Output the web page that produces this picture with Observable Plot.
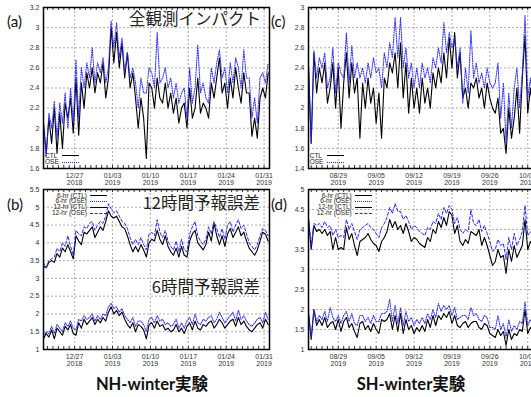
<!DOCTYPE html>
<html><head><meta charset="utf-8">
<script src="https://cdn.jsdelivr.net/npm/d3@7"></script>
<script src="https://cdn.jsdelivr.net/npm/@observablehq/plot@0.6"></script>
<style>
body{margin:0;width:531px;height:397px;overflow:hidden;position:relative;background:#fff;font-family:"Liberation Sans",Arial,sans-serif}
.abs{position:absolute;white-space:nowrap}
.plab{font-family:Lato,"Noto Sans",sans-serif;font-size:15px;line-height:18px;color:#111}
.jp{font-family:"Noto Sans CJK JP";font-size:16.5px;line-height:17px;color:#222}
.ttl{font-family:Lato,"Noto Sans CJK JP";font-weight:700;font-size:16.5px;line-height:18px;color:#111;transform:translateX(-50%)}
.lg{font-family:"Liberation Sans",Arial,sans-serif;font-size:6.5px;line-height:7px;color:#222}
.ln{position:absolute;height:0;width:17px}
</style></head>
<body>
<script>
// ---- data (12-hourly values) ----
const nhStart = "2018-12-21T06:00Z";
const shStart = "2019-08-23T12:00Z";
const nhDomain = ["2018-12-21T06:00Z", "2019-02-01T00:00Z"];
const shDomain = ["2019-08-23T12:00Z", "2019-10-04T06:00Z"];
const nhTickDates = ["2018-12-27","2019-01-03","2019-01-10","2019-01-17","2019-01-24","2019-01-31"];
const shTickDates = ["2019-08-29","2019-09-05","2019-09-12","2019-09-19","2019-09-26","2019-10-03"];
const yTicksA = [1.6,1.8,2,2.2,2.4,2.6,2.8,3,3.2];
const yTicksC = [1.4,1.6,1.8,2,2.2,2.4,2.6,2.8,3];
const yTicksB = [1,1.5,2,2.5,3,3.5,4,4.5,5,5.5];
const yTicksD = [1,1.5,2,2.5,3,3.5,4,4.5,5];

const nhCtl = [2.05,1.75,2.1,1.85,2.2,1.75,2.15,1.8,2.25,2.1,2.3,1.95,2.5,1.93,2.45,2.2,2.55,2.4,2.6,2.35,
2.55,2.45,2.65,2.3,2.5,3.0,2.65,2.95,2.6,2.85,2.5,2.75,2.4,2.55,2.3,2.0,2.3,2.1,1.7,2.45,
2.4,2.2,2.5,2.3,2.25,2.45,2.2,2.35,2.15,2.3,2.05,2.2,2.25,2.0,2.4,2.1,2.2,2.5,2.15,2.25,
2.2,2.1,2.45,2.3,2.5,2.7,2.35,2.45,2.2,2.5,2.3,2.6,2.4,2.25,2.55,2.35,2.35,1.92,2.1,1.9,
2.3,2.4,2.3,2.55];
const nhOse = [2.05,1.72,2.15,2.0,2.27,1.9,2.25,2.05,2.35,2.0,2.4,2.05,2.68,2.1,2.6,2.4,2.65,2.5,2.8,2.45,
2.65,2.55,2.7,2.45,2.6,3.07,2.8,3.05,2.7,2.9,2.55,2.75,2.5,2.6,2.45,2.2,2.5,2.35,2.35,2.6,
2.55,2.4,2.95,2.45,2.5,2.6,2.4,2.5,2.3,2.45,2.25,2.35,2.4,2.1,2.6,2.25,2.4,2.83,2.35,2.45,
2.3,2.25,2.6,2.45,2.65,2.78,2.5,2.6,2.35,2.65,2.45,2.7,2.6,2.4,2.78,2.5,2.5,2.1,2.3,2.05,
2.5,2.55,2.45,2.65];
const shCtl = [2.4,1.65,2.55,2.15,2.4,2.25,2.45,2.05,2.2,2.45,2.0,2.4,1.8,2.25,2.55,2.1,2.45,2.15,2.3,1.7,
2.25,2.0,2.3,2.05,2.2,1.85,2.15,1.7,2.3,2.2,2.45,2.35,2.55,2.2,2.65,2.1,2.45,1.95,2.3,2.0,
2.2,1.95,2.3,2.05,2.2,2.0,2.35,2.2,2.4,2.25,2.55,2.3,2.7,2.4,2.75,2.3,2.55,2.1,2.2,2.0,
2.25,2.2,2.3,2.1,2.2,2.0,2.25,2.1,2.0,1.95,2.1,1.75,1.8,1.55,2.0,1.7,1.9,2.2,1.75,2.3,
2.72,1.95,2.2,1.95];
const shOse = [2.45,1.65,2.57,2.3,2.5,2.4,2.55,2.2,2.3,2.6,2.15,2.45,2.35,2.3,2.75,2.25,2.62,2.3,2.45,2.3,
2.4,2.25,2.45,2.3,2.5,2.35,2.4,2.2,2.55,2.4,2.65,2.5,2.9,2.5,2.9,2.4,2.6,2.3,2.45,2.2,
2.4,2.2,2.45,2.3,2.4,2.25,2.5,2.4,2.6,2.45,2.85,2.55,2.75,2.6,2.7,2.4,2.6,2.05,2.4,2.15,
2.77,2.3,2.45,2.25,2.35,2.2,2.4,2.25,2.2,2.25,2.45,1.9,2.25,1.65,2.15,1.8,2.2,2.4,2.0,2.35,
2.92,2.1,2.3,2.0];
const nh12Ctl = [3.35,3.3,3.45,3.5,3.45,3.7,3.6,3.85,3.75,3.95,3.75,3.55,4.2,4.05,3.95,4.3,4.25,4.35,4.45,4.15,
4.3,4.45,4.35,4.6,4.9,4.75,4.7,4.75,4.6,4.45,4.4,4.2,3.95,3.75,3.9,3.75,3.95,3.8,3.6,4.0,
4.1,4.05,4.35,4.1,3.95,4.2,3.9,3.75,3.65,3.85,3.6,3.9,3.65,3.6,4.05,4.25,4.35,4.0,3.9,3.8,
3.95,4.3,4.05,4.55,4.2,3.95,4.2,3.9,4.25,4.4,4.15,4.3,4.45,4.2,4.3,4.05,3.85,3.75,3.65,3.8,
4.05,4.3,4.25,4.05];
const nh12Ose = [3.45,3.3,3.5,3.55,3.6,3.85,3.75,4.0,3.9,4.2,3.9,3.65,4.35,4.25,4.2,4.45,4.4,4.55,4.6,4.35,
4.5,4.6,4.55,4.75,5.1,4.95,4.85,4.9,4.75,4.6,4.55,4.4,4.15,3.95,4.1,3.95,4.15,3.95,3.8,4.25,
4.3,4.2,4.65,4.3,4.15,4.35,4.05,3.9,3.8,4.05,3.75,4.1,3.8,3.75,4.25,4.45,4.6,4.2,4.05,3.95,
4.1,4.45,4.25,4.6,4.4,4.15,4.4,4.1,4.5,4.6,4.3,4.5,4.65,4.4,4.5,4.25,4.0,3.9,3.8,3.95,
4.2,4.4,4.35,4.2];
const nh6Ctl = [1.3,1.45,1.35,1.55,1.3,1.6,1.5,1.4,1.65,1.55,1.7,1.45,1.4,1.75,1.6,1.85,1.7,1.8,1.9,1.7,
1.85,1.75,1.9,1.8,2.05,2.2,2.0,2.1,1.95,2.05,1.85,1.7,1.6,1.75,1.5,1.7,1.65,1.55,1.3,1.7,
1.75,1.6,1.8,1.65,1.7,1.55,1.6,1.5,1.55,1.7,1.5,1.6,1.45,1.65,1.75,1.55,1.8,1.6,1.55,1.7,
1.65,1.75,1.8,1.6,1.7,1.85,1.75,1.6,1.7,1.8,1.85,1.65,1.9,1.7,1.8,1.65,1.55,1.5,1.6,1.7,
1.75,1.6,1.85,1.7];
const nh6Ose = [1.4,1.5,1.45,1.65,1.45,1.7,1.6,1.5,1.75,1.65,1.8,1.6,1.55,1.85,1.8,1.95,1.85,1.9,2.0,1.8,
1.95,1.85,2.0,1.95,2.2,2.3,2.15,2.2,2.05,2.15,1.95,1.85,1.75,1.9,1.65,1.8,1.8,1.7,1.5,1.85,
1.9,1.75,1.95,1.8,1.85,1.7,1.75,1.65,1.7,1.85,1.6,1.75,1.6,1.8,1.9,1.7,2.0,1.75,1.7,1.85,
1.8,1.9,1.95,1.75,1.85,2.05,1.9,1.75,1.85,1.95,2.05,1.8,2.1,1.85,1.95,1.8,1.7,1.65,1.75,1.85,
1.9,1.75,2.05,1.85];
const sh12Ctl = [4.25,3.5,4.1,3.95,4.0,3.9,4.0,3.85,3.95,3.5,3.8,3.5,3.55,3.5,4.05,3.75,3.9,3.6,3.35,3.7,
3.75,3.8,3.9,3.75,3.65,3.6,3.45,3.7,3.8,3.95,4.25,4.05,4.2,4.0,4.1,3.9,4.15,3.95,3.7,3.8,
3.75,3.65,3.6,3.55,3.8,3.7,4.0,3.9,4.2,4.05,4.3,4.1,4.45,4.35,3.9,4.1,3.7,3.6,3.75,3.65,
3.95,3.9,3.85,4.0,3.6,3.8,3.6,3.35,3.1,3.2,3.5,3.3,3.35,2.9,3.5,3.2,3.6,3.3,3.45,3.6,
4.25,3.5,3.7,3.6];
const sh12Ose = [4.3,3.6,4.15,4.1,4.15,4.05,4.2,4.05,4.1,3.85,4.0,3.8,3.85,3.8,4.25,4.0,4.15,3.95,3.75,4.0,
4.05,4.1,4.15,4.05,4.0,3.9,3.8,4.05,4.15,4.3,4.55,4.4,4.65,4.45,4.45,4.25,4.35,4.2,4.0,4.1,
4.05,3.95,3.9,3.85,4.05,4.0,4.2,4.15,4.4,4.25,4.55,4.4,4.6,4.5,4.15,4.3,4.0,3.9,4.0,3.95,
4.5,4.15,4.1,4.25,3.95,4.1,3.9,3.7,3.45,3.5,3.75,3.6,3.65,3.25,3.8,3.5,3.9,3.6,3.75,3.95,
4.6,3.85,3.95,3.85];
const sh6Ctl = [1.9,1.25,2.0,1.6,1.75,1.6,1.8,1.55,1.65,1.7,1.5,1.75,1.45,1.7,1.8,1.55,1.65,1.45,1.3,1.65,
1.7,1.5,1.6,1.45,1.65,1.5,1.4,1.75,1.7,1.75,1.9,1.5,1.85,1.45,1.9,1.4,1.75,1.5,1.6,1.4,
1.55,1.45,1.6,1.45,1.75,1.55,1.85,1.6,1.85,1.75,1.9,1.8,1.95,1.65,1.85,1.6,1.55,1.65,1.7,1.55,
1.65,1.7,1.7,1.55,1.5,1.65,1.6,1.4,1.35,1.3,1.5,1.35,1.45,1.1,1.5,1.25,1.4,1.35,1.5,1.45,
2.0,1.4,1.55,1.45];
const sh6Ose = [1.95,1.3,2.0,1.7,1.85,1.75,1.95,1.7,2.05,1.8,1.7,1.85,1.65,1.85,1.95,1.7,1.9,1.65,1.6,1.85,
1.85,1.7,1.8,1.65,1.85,1.7,1.7,1.9,1.9,1.95,2.25,1.7,2.1,1.65,2.05,1.6,1.95,1.7,1.8,1.6,
1.75,1.65,1.8,1.65,1.9,1.75,2.0,1.8,2.15,1.95,2.1,2.0,2.1,1.85,2.05,1.75,1.8,1.85,1.85,1.75,
2.05,1.85,1.9,1.75,1.7,1.85,1.8,1.55,1.55,1.5,1.85,1.5,1.65,1.3,1.75,1.45,1.6,1.5,1.7,1.65,
2.2,1.6,1.75,1.6];

// ---- helpers ----
const H12 = 12 * 3600 * 1000;
const toSeries = (start, vals) => { const t0 = Date.parse(start); return vals.map((v, i) => ({t: new Date(t0 + i * H12), v})); };
const toDates = arr => arr.map(d => new Date(d + "T00:00Z"));
const fmtX = d => d3.utcFormat("%m/%d")(d) + "\n" + d3.utcFormat("%Y")(d);
const BLACK = "#000", BLUE = "#2424ff";

function panel(left, top, h, domain, tickDates, yDomain, yTicks, lines) {
  const mt = 7, mb = 22;
  const innerH = h - mt - mb;
  const xd = domain.map(d => new Date(d));
  const xt = toDates(tickDates);
  const days = d3.utcDays(xd[0], xd[1]);
  const svg = Plot.plot({
    width: 272, height: h, marginLeft: 43, marginRight: 3, marginTop: mt, marginBottom: mb,
    style: {background: "transparent", fontFamily: "'Liberation Sans', Arial, sans-serif", fontSize: "7px", color: "#333", overflow: "visible"},
    x: {type: "utc", domain: xd, ticks: xt, tickFormat: fmtX, tickSize: 0, tickPadding: 5, label: null},
    y: {domain: yDomain, ticks: yTicks, tickFormat: d => String(d), tickSize: 0, tickPadding: 4, label: null},
    marks: [
      Plot.ruleY(yTicks, {stroke: "#999", strokeDasharray: "2,2", strokeWidth: 0.8}),
      Plot.ruleX(xt, {stroke: "#999", strokeDasharray: "2,2", strokeWidth: 0.8}),
      Plot.ruleX(days, {insetTop: innerH - 3, stroke: "#000", strokeWidth: 0.8}),
      Plot.ruleX(days, {insetBottom: innerH - 3, stroke: "#000", strokeWidth: 0.8}),
      ...lines.map(s => Plot.line(s.data, {x: "t", y: "v", stroke: s.stroke, strokeWidth: s.w, strokeDasharray: s.dash, strokeOpacity: s.op})),
      Plot.frame({stroke: "#000", strokeWidth: 1.5})
    ]
  });
  svg.style.position = "absolute";
  svg.style.left = left + "px";
  svg.style.top = top + "px";
  document.body.appendChild(svg);
}

const solid = (data) => ({data, stroke: BLACK, w: 1.1, dash: null, op: 1});
const dotted = (data) => ({data, stroke: BLUE, w: 1.1, dash: "1,1.4", op: 0.95});
const dashed = (data) => ({data, stroke: BLUE, w: 1, dash: "3,2", op: 1});

panel(0, 0, 190, nhDomain, nhTickDates, [1.6, 3.2], yTicksA,
  [solid(toSeries(nhStart, nhCtl)), dotted(toSeries(nhStart, nhOse))]);
panel(265, 0, 190, shDomain, shTickDates, [1.4, 3.0], yTicksC,
  [solid(toSeries(shStart, shCtl)), dotted(toSeries(shStart, shOse))]);
panel(0, 182, 189, nhDomain, nhTickDates, [1, 5.5], yTicksB,
  [solid(toSeries(nhStart, nh6Ctl)), dotted(toSeries(nhStart, nh6Ose)),
   solid(toSeries(nhStart, nh12Ctl)), dashed(toSeries(nhStart, nh12Ose))]);
panel(265, 182, 189, shDomain, shTickDates, [1, 5], yTicksD,
  [solid(toSeries(shStart, sh6Ctl)), dotted(toSeries(shStart, sh6Ose)),
   solid(toSeries(shStart, sh12Ctl)), dashed(toSeries(shStart, sh12Ose))]);

// ---- text overlays ----
function addText(cls, txt, css) {
  const d = document.createElement("div");
  d.className = "abs " + cls;
  d.textContent = txt;
  Object.assign(d.style, css);
  document.body.appendChild(d);
  return d;
}
function addLine(x, y, style) {
  const d = document.createElement("div");
  d.className = "ln";
  Object.assign(d.style, {left: x + "px", top: y + "px", borderTop: style});
  document.body.appendChild(d);
}
const panelLabels = ["(a)", "(c)", "(b)", "(d)"];
addText("plab", panelLabels[0], {left: "7px", top: "12px"});
addText("plab", panelLabels[1], {left: "271px", top: "12px"});
addText("plab", panelLabels[2], {left: "7px", top: "195px"});
addText("plab", panelLabels[3], {left: "271px", top: "195px"});

const jpTitles = ["全観測インパクト", "12時間予報誤差", "6時間予報誤差"];
addText("jp", jpTitles[0], {right: "270px", top: "10px"});
addText("jp", jpTitles[1], {right: "271px", top: "194px"});
addText("jp", jpTitles[2], {right: "271px", top: "278px"});

const bottomTitles = ["NH-winter実験", "SH-winter実験"];
addText("ttl", bottomTitles[0], {left: "152px", top: "375px"});
addText("ttl", bottomTitles[1], {left: "411px", top: "375px"});

// legends top panels
const legA = ["CTL", "OSE"];
[0, 264.7].forEach(off => {
  addText("lg", legA[0], {left: (45 + off) + "px", top: "151.5px"});
  addText("lg", legA[1], {left: (45 + off) + "px", top: "158px"});
  addLine(62 + off, 155, "1.2px solid #000");
  addLine(62 + off, 161.5, "1.2px dotted " + BLUE);
});
// legends bottom panels
const legB = ["6-hr (CTL)", "6-hr (OSE)", "12-hr (CTL)", "12-hr (OSE)"];
const legStyles = ["1.2px solid #000", "1.2px dotted " + BLUE, "1.2px solid #000", "1.1px dashed " + BLUE];
[0, 264.7].forEach(off => {
  legB.forEach((s, i) => {
    const y = 195 + i * 5.9;
    addText("lg", s, {right: (531 - 87 - off) + "px", top: (y - 3.5) + "px", textAlign: "right"});
    addLine(90 + off, y, legStyles[i]);
  });
});
</script>
</body></html>
